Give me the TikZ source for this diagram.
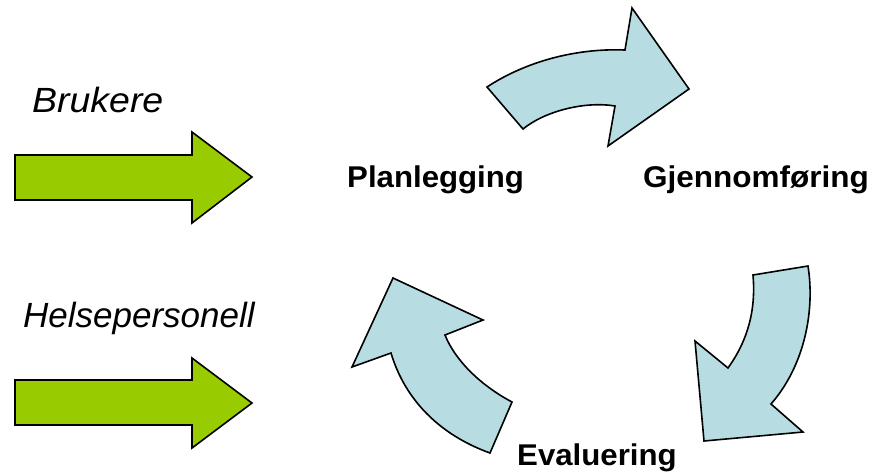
\documentclass[tikz,border=0pt]{standalone}
\usepackage{fontspec}
\setmainfont{Liberation Sans}
\begin{document}
\begin{tikzpicture}[x=1pt,y=-1pt,
  greenarrow/.style={fill=arrowgreen,draw=black,line width=1.6pt,line join=miter},
  bluearrow/.style={fill=arrowblue,draw=black,line width=1.6pt,line join=miter},
  label/.style={inner sep=0pt,anchor=base west,font=\fontsize{30}{36}\selectfont\bfseries},
  side/.style={inner sep=0pt,anchor=base west,font=\fontsize{35}{42}\selectfont\itshape}]
\definecolor{arrowgreen}{HTML}{99CC00}
\definecolor{arrowblue}{HTML}{B7DDE3}
\useasboundingbox (0,0) rectangle (873,475);
% green arrows
\draw[greenarrow] (15,155) -- (192,155) -- (192,132) -- (252,177) -- (192,223) -- (192,200) -- (15,200) -- cycle;
\draw[greenarrow] (15,380) -- (192,380) -- (192,358) -- (252,403) -- (192,448) -- (192,425) -- (15,425) -- cycle;
% curved arrows
\draw[bluearrow] (487,87) .. controls (525,62) and (575,48) .. (625,50) -- (632,8) -- (689,89) -- (608,146) -- (615,106) .. controls (585,101) and (545,111) .. (523,129) -- cycle;
\draw[bluearrow] (753,275) -- (808,266) .. controls (815,310) and (805,365) .. (771,404) -- (803,432) -- (704,441) -- (695,341) -- (728,368) .. controls (748,340) and (756,310) .. (753,275) -- cycle;
\draw[bluearrow] (490,453) -- (512,402) .. controls (480,385) and (455,360) .. (445,335) -- (483,320) -- (393,278) -- (352,367) -- (391,353) .. controls (405,400) and (440,435) .. (490,453) -- cycle;
% texts
\node[side] (bru) at (32,112) {\scalebox{1.07}[1]{Brukere}};
\node[side] (hel) at (23,327) {Helsepersonell};
\node[label] (plan) at (347,187) {\scalebox{1.04}[1]{Planlegging}};
\node[label] (gjen) at (643,187) {\scalebox{1.05}[1]{Gjennomføring}};
\node[label] (eval) at (517,465) {\scalebox{1.04}[1]{Evaluering}};
\end{tikzpicture}
\end{document}
